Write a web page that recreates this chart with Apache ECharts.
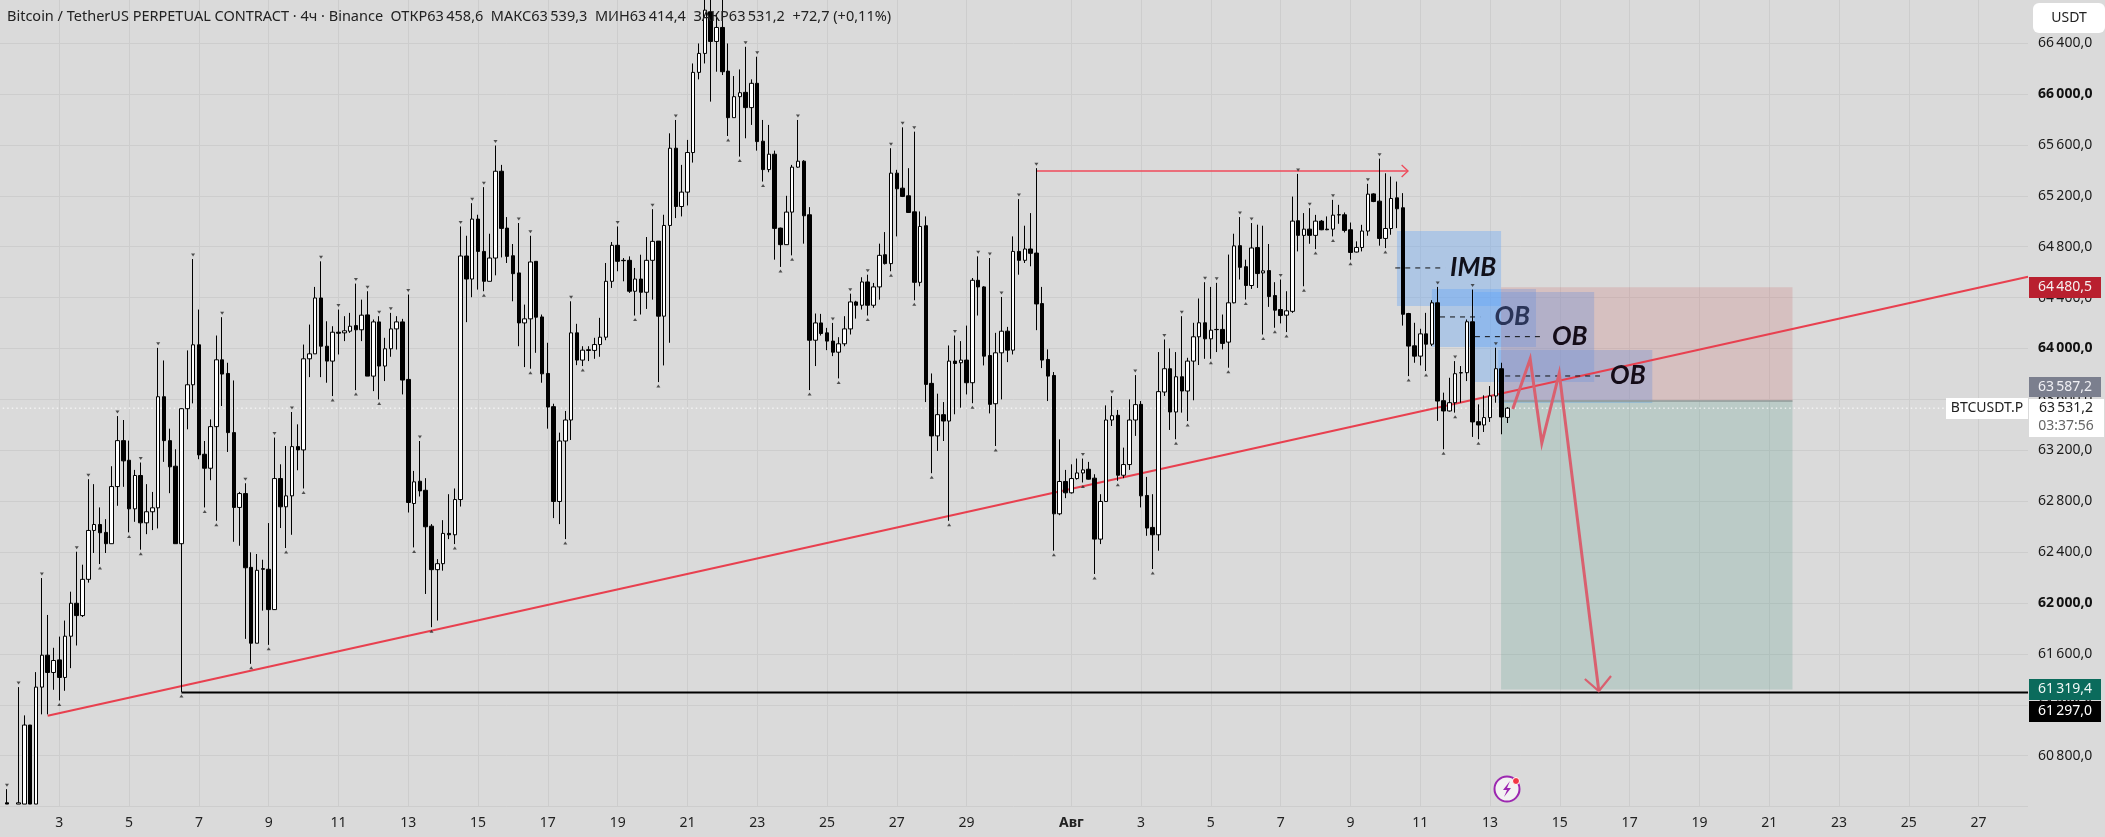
<!DOCTYPE html>
<html>
<head>
<meta charset="utf-8">
<title>BTCUSDT.P 4h</title>
<script src="https://cdn.jsdelivr.net/npm/echarts@6/dist/echarts.min.js"></script>
<style>
  html, body { margin: 0; background: #dadada; overflow: hidden; }
  #chart { width: 2105px; height: 837px; }
</style>
</head>
<body>
<div id="chart"></div>
<script>
// 4h bars. Bars 0 and 2 are not visible, they stay empty;
// bars 1-6 run off the bottom of the pane, so they stop at its edge.
const opens = [
  null,60430,null,60420,60420,61041,60420,61339,61590,61454,
  61553,61415,61739,61998,61901,62186,62570,62617,62555,62466,
  62915,63276,63122,62740,63002,62630,62717,62748,63621,63276,
  63075,62466,63527,63715,64029,63169,63059,63386,63911,63804,
  63339,62751,62860,62280,61684,62270,62265,61948,62978,62756,
  62842,63229,63203,63919,63958,64397,64018,63901,64128,64123,
  64136,64180,64147,64264,63783,64209,63862,63998,64154,64209,
  63757,62782,62957,62886,62604,62262,62309,62547,62536,62813,
  64727,64546,65017,64763,64528,64711,65393,64946,64729,64594,
  64201,64233,64685,64248,63804,63543,62798,63273,63438,64123,
  63909,63990,63985,64031,64089,64528,64811,64693,64693,64450,
  64546,64442,64693,64844,64254,64967,65574,65116,65229,65540,
  66170,66319,66646,66413,66523,66180,65814,65979,66013,65893,
  66084,65629,65406,65527,64946,64816,65072,65425,65472,65051,
  64065,64201,64123,64058,63971,64037,64154,64366,64340,64523,
  64340,64484,64737,64667,65378,65260,65200,65074,64520,64965,
  63726,63313,63480,63430,63901,63888,63909,63731,64536,64484,
  63945,63566,63966,64136,63987,64763,64693,64782,64750,64353,
  63914,63788,62701,62955,62866,62978,63022,63051,62981,62502,
  62798,63438,63475,63004,63088,63438,63561,62845,62594,62536,
  63658,63841,63501,63778,63666,63901,64092,64202,64076,64150,
  64150,64050,64359,64808,64643,64495,64793,64594,64612,64416,
  64306,64262,64292,65004,64889,64938,64889,65001,64938,64938,
  65051,65051,64933,64758,64794,64923,65215,65158,64865,64943,
  65184,65106,64275,64021,63940,64115,64034,64359,63590,63509,
  63574,63810,63810,64210,63425,63399,63457,63627,63841,63458.6
];
const closes = [
  null,60420,null,60430,61041,60420,61339,61590,61454,61548,
  61415,61739,61998,61901,62186,62570,62617,62552,62466,62915,
  63276,63117,62740,63002,62630,62717,62748,63621,63276,63070,
  62466,63527,63715,64029,63164,63059,63386,63911,63799,63339,
  62751,62860,62277,61684,62257,62265,61948,62978,62756,62842,
  63229,63203,63919,63958,64397,64018,63901,64128,64120,64139,
  64175,64147,64262,63783,64209,63862,63998,64154,64209,63752,
  62790,62952,62881,62599,62262,62309,62547,62536,62813,64727,
  64546,65017,64763,64528,64711,65393,64944,64724,64588,64201,
  64233,64680,64246,63801,63540,62798,63273,63438,64123,63909,
  63987,63985,64031,64089,64528,64811,64685,64690,64450,64546,
  64442,64693,64842,64254,64967,65574,65116,65229,65540,66170,
  66319,66659,66413,66523,66175,65814,65979,66010,65893,66084,
  65626,65406,65527,64944,64816,65072,65425,65472,65043,64065,
  64201,64118,64058,63971,64037,64154,64366,64340,64523,64340,
  64484,64732,64667,65378,65255,65195,65069,64520,64959,63718,
  63313,63480,63430,63901,63882,63909,63731,64536,64484,63940,
  63561,63966,64136,63987,64763,64693,64782,64748,64350,63909,
  63783,62701,62955,62866,62978,63022,63046,62973,62502,62798,
  63438,63472,63004,63088,63438,63559,62842,62589,62536,63661,
  63841,63501,63778,63666,63901,64092,64202,64076,64144,64148,
  64040,64359,64806,64638,64495,64790,64589,64610,64408,64301,
  64259,64296,65001,64889,64938,64889,65001,64933,64933,65048,
  65050,64928,64755,64794,64923,65213,65155,64865,64943,65179,
  65098,64269,64019,63940,64115,64034,64359,63587,63509,63574,
  63802,63808,64210,63423,63399,63457,63627,63841,63462,63531.2
];
const lows = [
  null,60420,null,60420,60420,60420,60420,61125,61125,61318,
  61234,61310,61488,61666,61890,62160,62393,62306,62393,62466,
  62764,62913,62555,62638,62419,62541,62573,62586,63109,62863,
  62466,61300,63365,63569,63130,62751,62965,62646,63548,63187,
  62481,62450,61718,61522,61684,61940,61671,61945,62589,62432,
  62536,63043,62900,63775,63958,63775,63731,63626,63953,64058,
  64123,63673,64058,63783,63665,63600,63744,63935,63992,63639,
  62711,62437,62837,62071,61810,61862,62254,62502,62463,62758,
  64207,64403,64463,64450,64528,64575,64716,64672,64371,64018,
  63854,63841,63966,63731,63370,62667,62620,62502,63281,63869,
  63862,63901,63919,63935,64065,64476,64607,64528,64437,64259,
  64267,64311,64384,63736,63867,64045,65025,65038,65124,65461,
  66115,66240,65940,66175,66149,65670,65814,65508,65652,65757,
  65555,65312,65385,64698,64641,64816,64732,65420,64824,63673,
  63862,64102,63987,63940,63765,64018,64110,64235,64306,64259,
  64320,64384,64660,64607,64881,65190,65065,64379,64489,63579,
  63020,63195,63273,62646,63483,63535,63639,63570,64259,63867,
  63490,63234,63600,63893,63953,64580,64672,64646,64144,63846,
  63587,62411,62690,62824,62860,62970,62947,62970,62228,62463,
  62795,63391,62960,62981,63046,63313,62751,62528,62267,62411,
  63627,63360,63287,63496,63430,63593,63870,63919,63919,63972,
  63993,63849,64355,64542,64385,64468,64476,64110,64327,64163,
  64197,64129,64280,64763,64489,64823,64781,64930,64930,64881,
  64980,64912,64698,64755,64763,64886,65150,64808,64789,64894,
  64946,64180,63783,63888,63867,63823,64019,63431,63208,63505,
  63496,63574,63744,63305,63287,63344,63423,63574,63326,63414.4
];
const highs = [
  null,60537,null,61339,61117,61041,61457,62196,61906,61648,
  61736,61862,62089,62403,62301,62973,62934,62751,62659,63075,
  63469,63438,63276,63046,63104,62934,62873,64005,63906,63370,
  63208,63530,63985,64703,64306,63273,63443,64102,64246,63888,
  63749,62873,62941,62398,62385,62340,62628,63300,63090,63234,
  63501,63404,64031,64188,64484,64685,64214,64175,64306,64254,
  64280,64510,64384,64450,64228,64254,64084,64280,64254,64233,
  64424,63038,63273,62981,62620,62345,62651,62855,62900,64959,
  64886,65142,65051,65268,64902,65595,65443,65033,64821,64986,
  64345,64886,64685,64267,64045,63566,63339,63509,64371,64194,
  64018,64018,64084,64241,64672,64837,64959,64711,64724,64633,
  64737,64876,65095,64844,65051,65691,65796,65443,65639,66240,
  66397,66760,66770,66632,66760,66397,66141,66193,66371,66115,
  66293,65796,65757,65555,64950,65200,65443,65796,65480,65111,
  64275,64272,64162,64201,64089,64254,64431,64375,64560,64580,
  64515,64824,64915,65574,65404,65738,65417,65704,65077,65038,
  63804,63645,63579,64024,64102,64058,64180,64554,64724,64490,
  64711,64123,64405,64170,64881,65174,64965,65064,65417,64484,
  63993,63815,63286,63046,63090,63135,63135,63109,63012,62855,
  63553,63626,63517,63221,63600,63791,63587,62991,62855,63972,
  64071,64001,63972,64254,63927,64202,64393,64521,64484,64516,
  64267,64738,64902,65033,64698,64986,64973,64965,64821,64521,
  64542,64450,65194,65372,65064,65103,65050,65010,65038,65168,
  65129,65069,64990,64842,64972,65294,65220,65492,65377,65351,
  65312,65221,64280,64202,64155,64280,64380,64484,63653,63770,
  63901,63862,64228,64463,63561,63632,63705,64006,63888,63539.3
];

// bars carrying a fractal marker
const fractalHighBars = [1,3,7,13,15,20,24,27,33,38,42,47,50,55,58,61,63,65,67,70,72,79,81,83,85,89,91,98,106,112,116,
  128,130,137,143,146,149,153,155,157,164,168,170,172,175,178,186,191,195,200,203,207,209,213,215,220,223,225,229,235,237,247,250,253,257];
const fractalLowBars = [10,17,22,24,31,35,37,43,46,49,52,57,61,65,71,74,78,83,91,97,100,109,113,125,127,131,134,136,139,144,149,153,157,160,163,167,171,
  181,186,188,192,198,202,204,208,211,214,217,219,221,224,226,229,232,238,242,245,248,250,254];

// x axis: bar index -> day label
const dayBars = [10,22,34,46,58,70,82,94,106,118,130,142,154,166,184,196,208,220,232,244,256,268,280,292,304,316,328,340];
const dayLabels = ['3','5','7','9','11','13','15','17','19','21','23','25','27','29','Авг','3','5','7','9','11','13','15','17','19','21','23','25','27'];
const barSlots = 349;

// drawings, in [bar, price]
const lastClose = 63531.2;
const entryPrice = 63587.2;
const stopPrice = 64480.5;
const targetPrice = 61319.4;
const levelPrice = 61297;
const levelStart = 31;
const trendLine = [[8, 61114], [348.5, 64564]];
const highArrow = [[178, 65395], [241.9, 65395]];
const highArrowHead = [[240.8, 65442], [241.9, 65395], [240.8, 65348]];
const pathLine = [[259.9, 63525], [262.9, 63918], [264.9, 63257], [267.9, 63807], [274.7, 61308]];
const pathHead = [[272.3, 61403], [274.7, 61308], [276.8, 61426]];
const positionBars = [257.9, 308];
// bar from, bar to, top, bottom
const blueZones = [
  [240, 257.9, 64923, 64334],
  [246, 263.9, 64468, 64012],
  [253.2, 273.9, 64444, 63737],
  [257.4, 283.9, 63988, 63572]
];
// bar from, bar to, price
const zoneDashes = [
  [239.7, 248.3, 64633],
  [247.4, 254.3, 64248],
  [253.4, 265.1, 64093],
  [258.6, 274.9, 63784]
];
const zoneNames = ['IMB', 'OB', 'OB', 'OB'];
const zoneNameBars = [253.1, 259.8, 269.7, 279.7];
const zoneNamePrices = [64633, 64248, 64090, 63784];
const zoneNameColors = ['#10101a', '#2a3458', '#140c18', '#140c18'];

const priceTicksBold = [62000, 64000, 66000];
const FONT = '"Noto Sans", "Open Sans", sans-serif';

const categories = new Array(barSlots).fill('');
dayBars.forEach((b, i) => { categories[b] = dayLabels[i]; });
const isDayBar = (i) => dayBars.includes(i);

function fmtPrice(v) {
  const s = v.toFixed(1).replace('.', ',');
  return s.slice(0, 2) + '\u2009' + s.slice(2);
}

// category axis rounds its input, so fractions of a bar are added by hand
function at(api, bar, price) {
  const whole = Math.floor(bar);
  const pt = api.coord([whole, price]);
  pt[0] += (bar - whole) * api.size([1, 0])[0];
  return pt;
}

function layer(z, draw) {
  return {
    type: 'custom', z, silent: true, animation: false, clip: false,
    data: [[0, entryPrice]],
    renderItem: (params, api) => ({ type: 'group', children: draw(api) })
  };
}

function poly(api, pts, stroke, lineWidth, lineDash) {
  return {
    type: 'polyline',
    shape: { points: pts.map(p => at(api, p[0], p[1])) },
    style: { stroke, lineWidth, fill: null, lineDash: lineDash || null, lineJoin: 'miter' }
  };
}

function box(api, b0, b1, top, bottom, fill) {
  const a = at(api, b0, top), c = at(api, b1, bottom);
  return { type: 'rect', shape: { x: a[0], y: a[1], width: c[0] - a[0], height: c[1] - a[1] }, style: { fill } };
}

// right-hand price tags and other screen furniture
function tag(x, y, w, h, fill, text, color, r) {
  return [
    { type: 'rect', z: 50, shape: { x, y, width: w, height: h, r: r || 0 }, style: { fill } },
    { type: 'text', z: 51, x: x + w / 2, y: y + h / 2,
      style: { text, fill: color, font: '14px ' + FONT, align: 'center', verticalAlign: 'middle', textAlign: 'center', textVerticalAlign: 'middle' } }
  ];
}

const furniture = [
  ...tag(2033, 3, 72, 30, '#ffffff', 'USDT', '#222', 6),
  ...tag(2029, 277, 72, 21, '#b9202f', fmtPrice(stopPrice), '#f5f0f0'),
  ...tag(2029, 377, 72, 20, '#7b7f8e', fmtPrice(entryPrice), '#f0f0f4'),
  { type: 'rect', z: 50, shape: { x: 2029, y: 399, width: 75, height: 38 }, style: { fill: '#ffffff' } },
  { type: 'text', z: 51, x: 2066, y: 408, style: { text: fmtPrice(lastClose), fill: '#222', font: '14px ' + FONT, align: 'center', verticalAlign: 'middle', textAlign: 'center', textVerticalAlign: 'middle' } },
  { type: 'text', z: 51, x: 2066, y: 426, style: { text: '03:37:56', fill: '#666', font: '14px ' + FONT, align: 'center', verticalAlign: 'middle', textAlign: 'center', textVerticalAlign: 'middle' } },
  ...tag(1946, 398, 82, 21, '#ffffff', 'BTCUSDT.P', '#222'),
  ...tag(2029, 679, 72, 21, '#0b6b5c', fmtPrice(targetPrice), '#f0f7f5'),
  ...tag(2029, 701, 72, 21, '#000000', fmtPrice(levelPrice), '#ffffff'),
  // legend line
  { type: 'text', z: 40, x: 7, y: 17,
    style: { text: 'Bitcoin / TetherUS PERPETUAL CONTRACT · 4ч · Binance  ОТКР63\u2009458,6  МАКС63\u2009539,3  МИН63\u2009414,4  ЗАКР63\u2009531,2  +72,7 (+0,11%)',
      fill: '#222', font: '14.5px ' + FONT, align: 'left', verticalAlign: 'middle', textAlign: 'left', textVerticalAlign: 'middle' } },
  // lightning badge
  { type: 'circle', z: 40, shape: { cx: 1507, cy: 789, r: 12.5 }, style: { fill: '#f2f2f2', stroke: '#9c27b0', lineWidth: 2 } },
  { type: 'polygon', z: 41, shape: { points: [[1510, 781], [1503, 790], [1507, 790], [1504, 797], [1511, 788], [1507, 788]] }, style: { fill: '#9c27b0' } },
  { type: 'circle', z: 42, shape: { cx: 1516, cy: 781, r: 3.5 }, style: { fill: '#f23645', stroke: '#ffffff', lineWidth: 1 } }
];

const chart = echarts.init(document.getElementById('chart'), null, { renderer: 'canvas' });
chart.setOption({
  animation: false,
  backgroundColor: '#dadada',
  grid: { left: -1.77, top: -7.8, width: 2029.8, height: 814.4, containLabel: false, outerBoundsMode: 'none' },
  xAxis: {
    type: 'category',
    data: categories,
    boundaryGap: true,
    axisLine: { show: false },
    axisTick: { show: false },
    splitLine: { show: true, alignWithLabel: true, interval: isDayBar, lineStyle: { color: '#cdcdcd', width: 1 } },
    axisLabel: {
      interval: isDayBar,
      margin: 9,
      color: '#222',
      fontFamily: FONT,
      fontSize: 14,
      formatter: (v) => v === 'Авг' ? '{b|Авг}' : v,
      rich: { b: { fontWeight: 'bold', fontSize: 14, fontFamily: FONT, color: '#222' } }
    }
  },
  yAxis: {
    type: 'value',
    position: 'right',
    min: 60400,
    max: 66800,
    interval: 400,
    scale: true,
    axisLine: { show: false },
    axisTick: { show: false },
    splitLine: { show: true, lineStyle: { color: '#cdcdcd', width: 1 } },
    axisLabel: {
      margin: 10,
      color: '#1a1a1a',
      fontFamily: FONT,
      fontSize: 14,
      showMinLabel: false,
      showMaxLabel: false,
      formatter: (v) => priceTicksBold.includes(v) ? '{b|' + fmtPrice(v) + '}' : fmtPrice(v),
      rich: { b: { fontWeight: 'bold', fontSize: 14, fontFamily: FONT, color: '#111' } }
    }
  },
  series: [
    layer(1, (api) => [
      ...blueZones.map(z => box(api, z[0], z[1], z[2], z[3], 'rgba(90,160,250,0.34)')),
      box(api, positionBars[0], positionBars[1], stopPrice, entryPrice, 'rgba(200,90,90,0.2)'),
      box(api, positionBars[0], positionBars[1], entryPrice, targetPrice, 'rgba(67,147,127,0.2)'),
      poly(api, [[positionBars[0], entryPrice], [positionBars[1], entryPrice]], '#8f9a98', 1.5)
    ]),
    layer(2, (api) => [
      poly(api, [[-0.5, lastClose], [348.5, lastClose]], '#ffffff', 1, [1.5, 3]),
      poly(api, trendLine, '#e8404f', 2.2),
      poly(api, highArrow, '#ef4a5a', 1.3),
      poly(api, highArrowHead, '#ef4a5a', 1.3)
    ]),
    {
      type: 'candlestick',
      z: 3,
      barWidth: 4,
      animation: false,
      itemStyle: { color: '#ffffff', color0: '#000000', borderColor: '#000000', borderColor0: '#000000', borderWidth: 1 },
      data: opens.map((o, i) => o === null ? ['-', '-', '-', '-'] : [o, closes[i], lows[i], highs[i]])
    },
    {
      type: 'scatter', z: 4, silent: true, animation: false,
      symbol: 'triangle', symbolRotate: 180, symbolSize: [4, 3], symbolOffset: [0, -4],
      itemStyle: { color: '#2b2b2b' },
      data: fractalHighBars.map(b => [b, highs[b]])
    },
    {
      type: 'scatter', z: 4, silent: true, animation: false,
      symbol: 'triangle', symbolSize: [4, 3], symbolOffset: [0, 4],
      itemStyle: { color: '#2b2b2b' },
      data: fractalLowBars.map(b => [b, lows[b]])
    },
    layer(5, (api) => [
      poly(api, [[levelStart, levelPrice], [348.5, levelPrice]], '#000000', 2),
      ...zoneDashes.map(d => poly(api, [[d[0], d[2]], [d[1], d[2]]], '#111111', 1, [5, 5])),
      poly(api, pathLine, '#d9606f', 3),
      poly(api, pathHead, '#d9606f', 2.2),
      ...zoneNames.map((name, i) => {
        const p = at(api, zoneNameBars[i], zoneNamePrices[i]);
        return { type: 'text', x: p[0], y: p[1], style: {
          text: name, fill: zoneNameColors[i], font: 'italic bold 26px Lato, ' + FONT,
          align: 'center', verticalAlign: 'middle', textAlign: 'center', textVerticalAlign: 'middle' } };
      })
    ])
  ],
  graphic: furniture
});
</script>
</body>
</html>
